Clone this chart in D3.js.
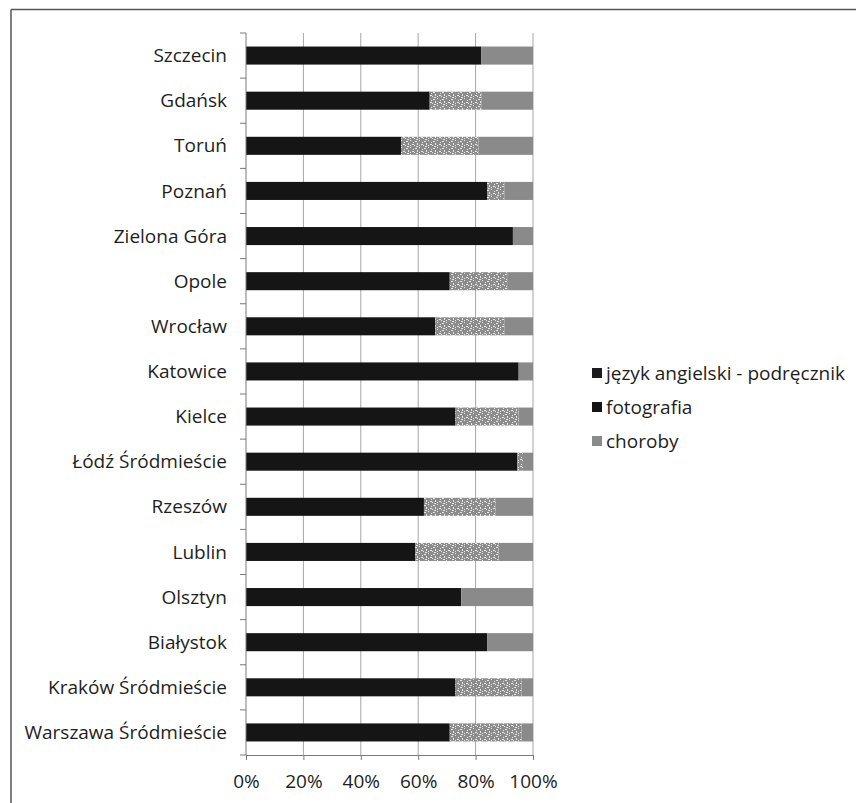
<!DOCTYPE html>
<html>
<head>
<meta charset="utf-8">
<script src="https://cdn.jsdelivr.net/npm/d3@7"></script>
<style>
  html, body { margin: 0; padding: 0; background: #fff; }
  svg { display: block; }
  text { font-family: "Open Sans", Lato, sans-serif; fill: #1e1e1e; }
</style>
</head>
<body>
<svg id="chart" width="856" height="803"></svg>
<script>
const categories = ["Szczecin", "Gdańsk", "Toruń", "Poznań", "Zielona Góra", "Opole", "Wrocław",
  "Katowice", "Kielce", "Łódź Śródmieście", "Rzeszów", "Lublin", "Olsztyn", "Białystok",
  "Kraków Śródmieście", "Warszawa Śródmieście"];
const seriesNames = ["język angielski - podręcznik", "fotografia", "choroby"];
const angielski = [82, 64, 54, 84, 93, 71, 66, 95, 73, 94.5, 62, 59, 75, 84, 73, 71];
const fotografia = [0, 18, 27, 6, 0, 20, 24, 0, 22, 2, 25, 29, 0, 0, 23, 25];
const choroby = [18, 18, 19, 10, 7, 9, 10, 5, 5, 3.5, 13, 12, 25, 16, 4, 4];
const tickValues = [0, 20, 40, 60, 80, 100];
const tickLabels = ["0%", "20%", "40%", "60%", "80%", "100%"];

const FONT = "19px";
const svg = d3.select("#chart");

// outer frame (scan edges)
svg.append("line").attr("x1", 11).attr("x2", 856).attr("y1", 9.5).attr("y2", 9.5)
  .attr("stroke", "#555").attr("stroke-width", 1.5);
svg.append("line").attr("x1", 11).attr("x2", 11).attr("y1", 9.5).attr("y2", 803)
  .attr("stroke", "#555").attr("stroke-width", 1.5);

// speckle pattern for "fotografia"
const defs = svg.append("defs");
const pat = defs.append("pattern").attr("id", "speckle").attr("patternUnits", "userSpaceOnUse")
  .attr("width", 9).attr("height", 7);
pat.append("rect").attr("width", 9).attr("height", 7).attr("fill", "#8c8c8c");
const dots = [[1,1,2,1],[5,0,1,1],[3,3,1,2],[7,4,2,1],[0,5,1,1],[5,5,1,1],[2,6,2,1],[8,2,1,1]];
dots.forEach(d => pat.append("rect").attr("x", d[0]).attr("y", d[1]).attr("width", d[2]).attr("height", d[3]).attr("fill", "#e6e6e6"));

const x = d3.scaleLinear().domain([0, 100]).range([246, 533]);
const y = d3.scaleBand().domain(categories).range([33, 755]).paddingInner(0.6).paddingOuter(0.3);

// vertical gridlines
svg.append("g").selectAll("line").data(tickValues.slice(1)).join("line")
  .attr("x1", d => x(d)).attr("x2", d => x(d)).attr("y1", 33).attr("y2", 755)
  .attr("stroke", "#a6a6a6").attr("stroke-width", 1);

// stacked bars
const rows = categories.map((c, i) => ({ cat: c, vals: [angielski[i], fotografia[i], choroby[i]] }));
const fills = ["#151515", "url(#speckle)", "#8a8a8a"];
const g = svg.append("g");
rows.forEach(r => {
  let acc = 0;
  r.vals.forEach((v, k) => {
    if (v > 0) {
      g.append("rect")
        .attr("x", x(acc)).attr("width", x(acc + v) - x(acc))
        .attr("y", y(r.cat)).attr("height", y.bandwidth())
        .attr("fill", fills[k]);
    }
    acc += v;
  });
});

// y axis
const yAxis = svg.append("g").attr("transform", `translate(${x(0)},0)`);
yAxis.append("line").attr("x1", 0).attr("x2", 0).attr("y1", 33).attr("y2", 755).attr("stroke", "#7a7a7a");
const bounds = categories.map(c => y(c) - y.step() * y.paddingInner() / 2).concat([755]);
yAxis.selectAll(".tk").data(bounds).join("line").attr("class", "tk")
  .attr("x1", -6).attr("x2", 0).attr("y1", d => d).attr("y2", d => d).attr("stroke", "#7a7a7a");
yAxis.selectAll("text").data(categories).join("text")
  .attr("x", -19).attr("y", d => y(d) + y.bandwidth() / 2)
  .attr("dy", "0.35em").attr("text-anchor", "end")
  .style("font-size", FONT).text(d => d);

// x axis
const xAxis = d3.axisBottom(x).tickValues(tickValues).tickFormat((d, i) => tickLabels[i]).tickSize(5).tickPadding(15);
const xg = svg.append("g").attr("transform", "translate(0,755)").call(xAxis);
xg.select(".domain").attr("stroke", "#7a7a7a");
xg.selectAll(".tick line").attr("stroke", "#7a7a7a");
xg.selectAll(".tick text").style("font-size", FONT).style("font-family", "'Open Sans', sans-serif").attr("fill", "#1e1e1e");

// legend
const legendColors = ["#1c1c1c", "#151515", "#8a8a8a"];
const lg = svg.append("g").attr("transform", "translate(592,373)");
seriesNames.forEach((n, i) => {
  lg.append("rect").attr("x", 0).attr("y", i * 34 - 5).attr("width", 10).attr("height", 10).attr("fill", legendColors[i]);
  lg.append("text").attr("x", 14).attr("y", i * 34).attr("dy", "0.35em").style("font-size", FONT).text(n);
});
</script>
</body>
</html>
